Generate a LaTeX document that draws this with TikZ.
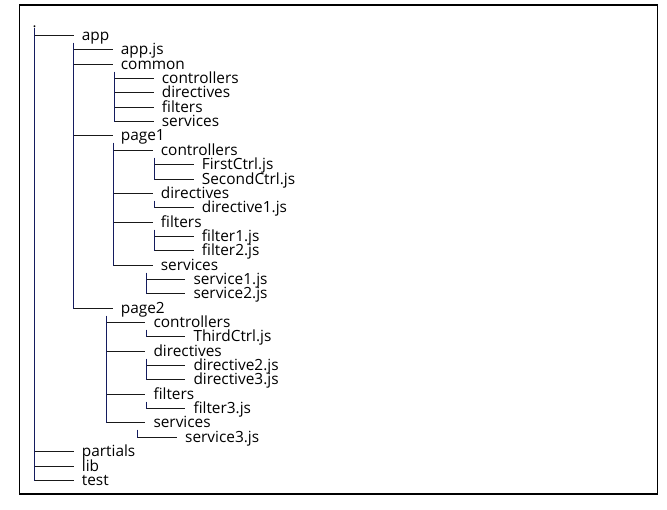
\documentclass[tikz,border=0pt]{standalone}
\usepackage{fontspec}
\setmainfont{Open Sans}
\usepackage{tikz}
\definecolor{stemColor}{RGB}{20,28,95}
\definecolor{branchColor}{RGB}{25,25,25}
\tikzstyle{treeView} = [x = 1pt, y = -1pt]
\tikzstyle{treeText} = [anchor=west, inner sep=0, text height=10pt, text depth=0pt, font=\fontsize{15.4}{15.4}\selectfont]
\tikzstyle{stemLine} = [color=stemColor, line width=1.5pt]
\tikzstyle{branchLine} = [color=branchColor, line width=1.5pt, shorten >=8pt]
\tikzstyle{frameLine} = [color=black, line width=1.6pt]
\newcommand{\rowY}[1]{round(35 + 14.35 * #1) + 0.5}
\newcommand{\treeNode}[4]{\node [treeText] (#1) at (#2, {\rowY{#3}}) {#4};}
\newcommand{\treeStem}[4]{\coordinate (#1) at (#2, {\rowY{#3} + 7}); \draw [stemLine] (#1) -- (#1 |- #4.west);}
\newcommand{\treeBranch}[2]{\draw [branchLine] (#1 |- #2.west) -- (#2.west);}

\begin{document}
\begin{tikzpicture}[treeView]
          \useasboundingbox (0,0) rectangle (667,509);
          \draw [frameLine] (19.5,5) rectangle (657.3,494);

          \node [inner sep=0, anchor=base, font=\fontsize{15}{15}\selectfont] (root) at (34.5,27) {.};

          \treeNode{app}{81.7}{0}{app}
          \treeNode{appJs}{120.7}{1}{app.js}
          \treeNode{common}{120.7}{2}{common}
          \treeNode{commonControllers}{161.7}{3}{controllers}
          \treeNode{commonDirectives}{161.7}{4}{directives}
          \treeNode{commonFilters}{161.7}{5}{filters}
          \treeNode{commonServices}{161.7}{6}{services}
          \treeNode{pageOne}{120.7}{7}{page1}
          \treeNode{pageOneControllers}{160.7}{8}{controllers}
          \treeNode{firstCtrl}{201.7}{9}{FirstCtrl.js}
          \treeNode{secondCtrl}{201.7}{10}{SecondCtrl.js}
          \treeNode{pageOneDirectives}{160.7}{11}{directives}
          \treeNode{directiveOne}{201.7}{12}{directive1.js}
          \treeNode{pageOneFilters}{160.7}{13}{filters}
          \treeNode{filterOne}{201.7}{14}{filter1.js}
          \treeNode{filterTwo}{201.7}{15}{filter2.js}
          \treeNode{pageOneServices}{160.7}{16}{services}
          \treeNode{serviceOne}{193.3}{17}{service1.js}
          \treeNode{serviceTwo}{193.3}{18}{service2.js}
          \treeNode{pageTwo}{120.7}{19}{page2}
          \treeNode{pageTwoControllers}{153.3}{20}{controllers}
          \treeNode{thirdCtrl}{193.3}{21}{ThirdCtrl.js}
          \treeNode{pageTwoDirectives}{153.3}{22}{directives}
          \treeNode{directiveTwo}{193.3}{23}{directive2.js}
          \treeNode{directiveThree}{193.3}{24}{directive3.js}
          \treeNode{pageTwoFilters}{153.3}{25}{filters}
          \treeNode{filterThree}{193.3}{26}{filter3.js}
          \treeNode{pageTwoServices}{153.3}{27}{services}
          \treeNode{serviceThree}{185}{28}{service3.js}
          \treeNode{partials}{81.7}{29}{partials}
          \treeNode{lib}{81.7}{30}{lib}
          \treeNode{test}{81.7}{31}{test}

          \coordinate (rootStem) at (34.5,27.5);
          \draw [stemLine] (rootStem) -- (rootStem |- test.west);
          \treeStem{appStem}{73.5}{0}{pageTwo}
          \treeStem{commonStem}{114.5}{2}{commonServices}
          \treeStem{pageOneStem}{113.5}{7}{pageOneServices}
          \treeStem{pageOneCtrlStem}{154.5}{8}{secondCtrl}
          \treeStem{pageOneDirStem}{154.5}{11}{directiveOne}
          \treeStem{pageOneFiltStem}{154.5}{13}{filterTwo}
          \treeStem{pageOneServStem}{146.5}{16}{serviceTwo}
          \treeStem{pageTwoStem}{106.5}{19}{pageTwoServices}
          \treeStem{pageTwoCtrlStem}{146.5}{20}{thirdCtrl}
          \treeStem{pageTwoDirStem}{146.5}{22}{directiveThree}
          \treeStem{pageTwoFiltStem}{146.5}{25}{filterThree}
          \treeStem{pageTwoServStem}{137.5}{27}{serviceThree}

          \foreach \child in {app,partials,lib,test} {\treeBranch{rootStem}{\child}}
          \foreach \child in {appJs,common,pageOne,pageTwo} {\treeBranch{appStem}{\child}}
          \foreach \child in {commonControllers,commonDirectives,commonFilters,commonServices} {\treeBranch{commonStem}{\child}}
          \foreach \child in {pageOneControllers,pageOneDirectives,pageOneFilters,pageOneServices} {\treeBranch{pageOneStem}{\child}}
          \foreach \child in {firstCtrl,secondCtrl} {\treeBranch{pageOneCtrlStem}{\child}}
          \treeBranch{pageOneDirStem}{directiveOne}
          \foreach \child in {filterOne,filterTwo} {\treeBranch{pageOneFiltStem}{\child}}
          \foreach \child in {serviceOne,serviceTwo} {\treeBranch{pageOneServStem}{\child}}
          \foreach \child in {pageTwoControllers,pageTwoDirectives,pageTwoFilters,pageTwoServices} {\treeBranch{pageTwoStem}{\child}}
          \treeBranch{pageTwoCtrlStem}{thirdCtrl}
          \foreach \child in {directiveTwo,directiveThree} {\treeBranch{pageTwoDirStem}{\child}}
          \treeBranch{pageTwoFiltStem}{filterThree}
          \treeBranch{pageTwoServStem}{serviceThree}
        \end{tikzpicture}
\end{document}
